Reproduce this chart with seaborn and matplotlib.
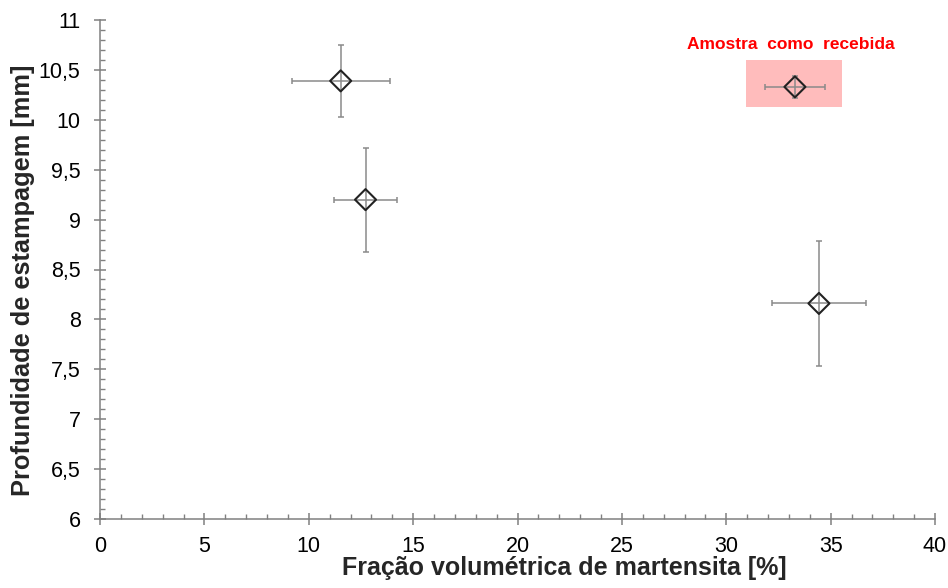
import matplotlib
matplotlib.use('Agg')
import matplotlib.pyplot as plt
from matplotlib.ticker import MultipleLocator, FuncFormatter
from matplotlib.patches import Rectangle
import seaborn as sns
import pandas as pd

# values
fracao = [11.53, 12.72, 34.44, 33.29]
fracao_err = [2.35, 1.50, 2.24, 1.45]
profundidade = [10.39, 9.20, 8.16, 10.33]
profundidade_err = [0.36, 0.52, 0.63, 0.11]
amostra = ['A', 'B', 'C', 'recebida']

destaque_x = [30.97, 35.54]
destaque_y = [10.13, 10.60]
destaque_txt = 'Amostra  como  recebida'

df = pd.DataFrame({'fracao': fracao, 'prof': profundidade,
                   'xerr': fracao_err, 'yerr': profundidade_err, 'amostra': amostra})

sns.set_style("ticks")
plt.rcParams['font.family'] = ['Liberation Sans', 'DejaVu Sans']

fig = plt.figure(figsize=(9.48, 5.88), dpi=100)
ax = fig.add_axes([100 / 948, 1 - 519 / 588, 835 / 948, 499 / 588])

# highlight box behind the as-received sample
ax.add_patch(Rectangle((destaque_x[0], destaque_y[0]), destaque_x[1] - destaque_x[0],
                       destaque_y[1] - destaque_y[0], facecolor='#ffbcbc', edgecolor='none', zorder=0))
ax.text(sum(destaque_x) / 2 - 0.15, 10.75, destaque_txt, color='red', fontsize=12.5,
        fontweight='bold', ha='center', va='center')

ax.errorbar(df['fracao'], df['prof'], xerr=df['xerr'], yerr=df['yerr'], fmt='none',
            ecolor='#8a8a8a', elinewidth=1.1, capsize=2.2, capthick=1.1, zorder=2)
sns.scatterplot(data=df, x='fracao', y='prof', marker='D', s=115, facecolor='none',
                edgecolor='#222222', linewidth=1.5, ax=ax, zorder=3, legend=False)

ax.set_xlim(0, 40)
ax.set_ylim(6, 11)
ax.xaxis.set_major_locator(MultipleLocator(5))
ax.xaxis.set_minor_locator(MultipleLocator(1))
ax.yaxis.set_major_locator(MultipleLocator(0.5))
ax.yaxis.set_minor_locator(MultipleLocator(0.1))

def virgula(v, pos):
    s = ('%g' % v)
    return s.replace('.', ',')

ax.yaxis.set_major_formatter(FuncFormatter(virgula))
ax.xaxis.set_major_formatter(FuncFormatter(virgula))

for s in ['top', 'right']:
    ax.spines[s].set_visible(False)
for s in ['left', 'bottom']:
    ax.spines[s].set_color('#808080')
    ax.spines[s].set_linewidth(1.1)

ax.tick_params(which='major', direction='inout', length=8, width=1.1, color='#808080',
               labelsize=15.5, labelcolor='black')
ax.tick_params(which='minor', direction='in', length=3.8, width=1.0, color='#808080')
ax.tick_params(axis='y', which='major', pad=10)
ax.tick_params(axis='x', which='major', pad=8)

ax.set_xlabel('Fração volumétrica de martensita [%]', fontsize=18, fontweight='bold')
ax.set_ylabel('Profundidade de estampagem [mm]', fontsize=18.3, fontweight='bold')
ax.xaxis.set_label_coords(0.556, -0.113)
ax.yaxis.set_label_coords(-0.092, 0.479)
ax.xaxis.label.set_va('baseline')
ax.yaxis.label.set_va('center')

fig.savefig('out.png', dpi=100)
